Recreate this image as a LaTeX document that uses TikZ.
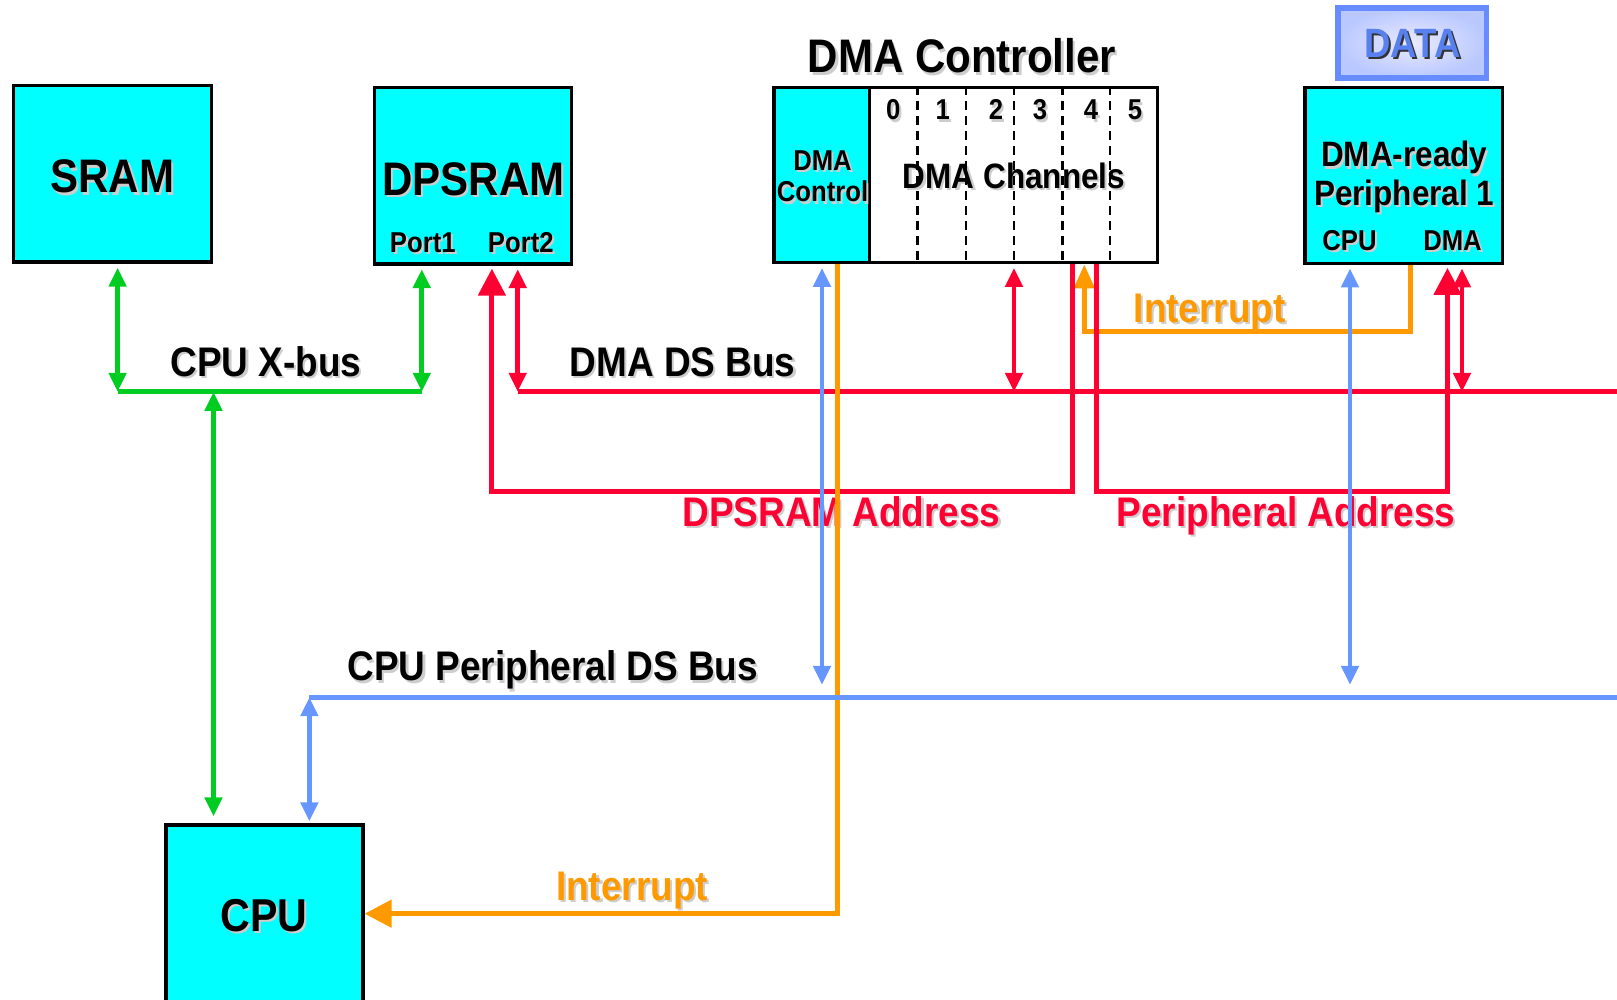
\documentclass[tikz,border=0pt]{standalone}
\usepackage{fontspec}
\setmainfont{Liberation Sans}
\usetikzlibrary{arrows.meta}
\definecolor{boxcyan}{RGB}{0,255,255}
\definecolor{bgreen}{RGB}{0,204,34}
\definecolor{bred}{RGB}{255,0,51}
\definecolor{bblue}{RGB}{102,150,255}
\definecolor{borange}{RGB}{255,153,0}
\definecolor{databorder}{RGB}{102,140,255}
\definecolor{datatext}{RGB}{88,128,238}
\definecolor{dataouter}{RGB}{185,200,255}
\definecolor{shadowgray}{RGB}{205,205,205}
\newcommand{\shd}[2]{\scalebox{1}[1.12]{\makebox[0pt][l]{\hspace{0.6pt}\raisebox{-0.6pt}{\textcolor{#1}{#2}}}#2}}
\newcommand{\fsz}[1]{\fontsize{#1}{#1}\selectfont\bfseries}
\tikzset{
  x=0.01cm, y=-0.01cm,
  stip/.tip={Triangle[width=0.17cm,length=0.19cm]},
  btip/.tip={Triangle[width=0.27cm,length=0.27cm]},
  otip/.tip={Triangle[width=0.2cm,length=0.24cm]},
  box/.style={draw=black, line width=0.9pt, fill=boxcyan, inner sep=0pt},
  lbl/.style={anchor=base, inner sep=0pt},
  fbig/.style={lbl, font=\fsz{11.95}},
  fmid/.style={lbl, font=\fsz{10.5}},
  fsm/.style={lbl, font=\fsz{8.95}},
  ftiny/.style={lbl, font=\fsz{7.3}},
  wire/.style={line width=1.4pt, line join=miter},
  gwire/.style={wire, draw=bgreen},
  rwire/.style={wire, draw=bred},
  bwire/.style={wire, draw=bblue},
  owire/.style={wire, draw=borange},
  chdash/.style={line width=0.7pt, dash pattern=on 0.09cm off 0.06cm},
}
\begin{document}
\begin{tikzpicture}
\useasboundingbox (0,0) rectangle (1617,1000);
\clip (0,0) rectangle (1617,1000);

% ---- boxes
\node[box, minimum width=1.98cm, minimum height=1.764cm] (sram) at (112.4,173.8) {};
\node[box, minimum width=1.969cm, minimum height=1.763cm] (dpsram) at (472.85,175.85) {};
\node[box, minimum width=0.953cm, minimum height=1.75cm] (dmactl) at (821.65,175.3) {};
\node[box, fill=white, minimum width=2.88cm, minimum height=1.75cm] (dmach) at (1013.3,175.3) {};
\node[box, minimum width=1.973cm, minimum height=1.76cm] (periph) at (1403.65,175.3) {};
\node[draw=databorder, line width=1.6pt, inner color=white!92!blue, outer color=dataouter,
      minimum width=1.486cm, minimum height=0.703cm, inner sep=0pt] (data) at (1412.15,43) {};
\node[box, minimum width=1.97cm, minimum height=1.9cm] (cpu) at (264.5,920) {};

% ---- texts
\node[fbig] (tsram) at (112.4,192.8) {\shd{shadowgray}{SRAM}};
\node[fbig] (tdpsram) at (473.4,195) {\shd{shadowgray}{DPSRAM}};
\node[ftiny] (tport1) at (422.8,252) {\shd{shadowgray}{Port1}};
\node[ftiny] (tport2) at (520.8,252) {\shd{shadowgray}{Port2}};
\node[fbig] (ttitle) at (962,72.7) {\shd{shadowgray}{DMA Controller}};
\node[ftiny] (tdma1) at (822.5,170) {\shd{shadowgray}{DMA}};
\node[ftiny] (tdma2) at (822.5,201.7) {\shd{shadowgray}{Control}};
\node[ftiny] (c0) at (893.3,120) {\shd{shadowgray}{0}};
\node[ftiny] (c1) at (942.7,120) {\shd{shadowgray}{1}};
\node[ftiny] (c2) at (996,120) {\shd{shadowgray}{2}};
\node[ftiny] (c3) at (1040,120) {\shd{shadowgray}{3}};
\node[ftiny] (c4) at (1091,120) {\shd{shadowgray}{4}};
\node[ftiny] (c5) at (1135,120) {\shd{shadowgray}{5}};
\node[fsm] (tchan) at (1014,188.3) {\shd{shadowgray}{DMA Channels}};
\node[lbl, font=\fsz{10.4}, text=datatext] (tdata) at (1412.5,57.3) {\shd{black!80}{DATA}};
\node[fsm] (tper1) at (1404.2,166.7) {\shd{shadowgray}{DMA-ready}};
\node[fsm] (tper2) at (1404.2,205) {\shd{shadowgray}{Peripheral 1}};
\node[ftiny] (tpcpu) at (1349.5,250) {\shd{shadowgray}{CPU}};
\node[ftiny] (tpdma) at (1452.5,250) {\shd{shadowgray}{DMA}};
\node[lbl, font=\fsz{11.7}] (tcpu) at (264,931) {\shd{shadowgray}{CPU}};
\node[fmid] (txbus) at (266,376.4) {\shd{shadowgray}{CPU X-bus}};
\node[fmid] (tdsbus) at (682.7,376.4) {\shd{shadowgray}{DMA DS Bus}};
\node[fmid, text=borange] (tint1) at (1209.7,322) {\shd{shadowgray}{Interrupt}};
\node[fmid, text=bred] (tdpa) at (841.5,526) {\shd{shadowgray}{DPSRAM Address}};
\node[fmid, text=bred] (tpa) at (1286,526) {\shd{shadowgray}{Peripheral Address}};
\node[fmid] (tpbus) at (552.8,680.7) {\shd{shadowgray}{CPU Peripheral DS Bus}};
\node[fmid, text=borange] (tint2) at (632,900) {\shd{shadowgray}{Interrupt}};

% ---- channel separators
\foreach \xx/\nm in {917.7/s1,966/s2,1014/s3,1062.3/s4,1110/s5}{
  \draw[chdash] (\xx,0 |- dmach.north) coordinate (\nm t) -- (\xx,0 |- dmach.south) coordinate (\nm b);
}

% ---- bus coordinates
\coordinate (gb1) at (117.6,391.8);
\coordinate (gb2) at (421.8,391.8);
\coordinate (gb3) at (213.5,391.8);
\coordinate (rb0) at (517.7,391.8);
\coordinate (rbE) at (1625,391.8);
\coordinate (rb2) at (1014,391.8);
\coordinate (rb3) at (1462,391.8);
\coordinate (bb0) at (309.4,697.2);
\coordinate (bbE) at (1625,697.2);
\coordinate (bb1) at (822,684.8);
\coordinate (bb2) at (1350,684.8);

% ---- upper interrupt (under red)
\draw[owire, -{otip}] (1410.8,0 |- periph.south) -- (1410.8,331.5) -- (1084.3,331.5) -- (1084.3,0 |- dmach.south);

% ---- green CPU X-bus
\draw[gwire] (gb1) -- (gb2);
\draw[gwire, {stip}-{stip}] ([yshift=-0.04cm]gb1 |- sram.south) -- (gb1);
\draw[gwire, {stip}-{stip}] ([yshift=-0.035cm]gb2 |- dpsram.south) -- (gb2);
\draw[gwire, {stip}-{stip}] (gb3) -- ([yshift=0.07cm]gb3 |- cpu.north);

% ---- red DMA DS bus and addresses
\draw[rwire] (rb0) -- (rbE);
\draw[rwire, {stip}-{stip}] ([yshift=-0.035cm]rb0 |- dpsram.south) -- (rb0);
\draw[rwire, {stip}-{stip}] ([yshift=-0.035cm]rb2 |- dmach.south) -- (rb2);
\draw[rwire, {stip}-{stip}] ([yshift=-0.035cm]rb3 |- periph.south) -- (rb3);
\draw[rwire, -{btip}] (1072.7,0 |- dmach.south) -- (1072.7,491.8) -- (491.9,491.8) -- ([yshift=-0.03cm]491.9,0 |- dpsram.south);
\draw[rwire, -{btip}] (1096.2,0 |- dmach.south) -- (1096.2,491.8) -- (1447.5,491.8) -- ([yshift=-0.03cm]1447.5,0 |- periph.south);

% ---- lower interrupt
\draw[owire, -{btip}] (837.8,0 |- dmactl.south) -- (837.8,913.7) -- (cpu.east |- 0,913.7);

% ---- blue CPU peripheral DS bus
\draw[bwire] (bb0) -- (bbE);
\draw[bwire, {stip}-{stip}] ([yshift=-0.035cm]bb1 |- dmactl.south) -- (bb1);
\draw[bwire, {stip}-{stip}] ([yshift=-0.035cm]bb2 |- periph.south) -- (bb2);
\draw[bwire, {stip}-{stip}] (bb0) -- ([yshift=0.02cm]bb0 |- cpu.north);
\end{tikzpicture}
\end{document}
